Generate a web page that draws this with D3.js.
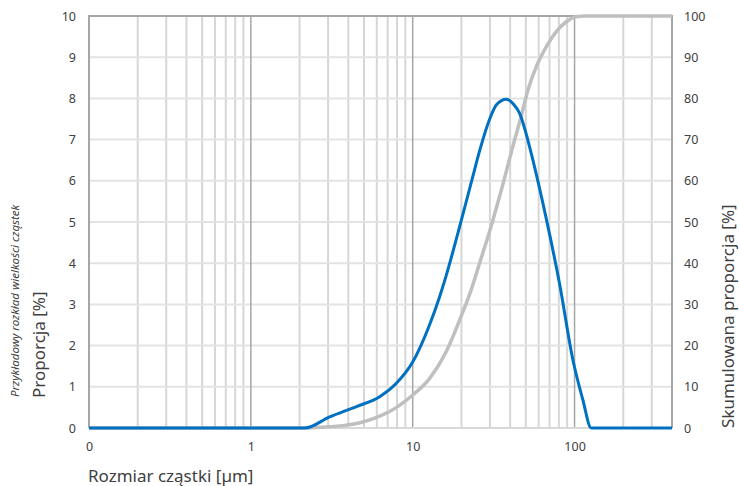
<!DOCTYPE html>
<html>
<head>
<meta charset="utf-8">
<script src="https://cdn.jsdelivr.net/npm/d3@7"></script>
<style>
  body { margin: 0; background: #fff; }
  svg text { font-family: "Noto Sans", "Open Sans", sans-serif; fill: #404040; }
</style>
</head>
<body>
<div id="chart"></div>
<script>
// particle size distribution
var sizeTicks = [0.1, 1, 10, 100];
var sizeTickLabels = ["0", "1", "10", "100"];
var leftTicks = [0, 1, 2, 3, 4, 5, 6, 7, 8, 9, 10];
var rightTicks = [0, 10, 20, 30, 40, 50, 60, 70, 80, 90, 100];

var densSize = [0.1, 2.15, 3.07, 4.49, 6.25, 7.9, 10, 12.7, 14.7, 16.1, 20, 23.5, 26, 29.9, 33, 37.9, 42, 45.7, 52.7, 55.3, 66.7, 80.8, 97.7, 112.6, 126.8, 400];
var densValue = [0, 0, 0.27, 0.52, 0.76, 1.08, 1.6, 2.5, 3.2, 3.7, 5.05, 6.1, 6.75, 7.5, 7.85, 7.98, 7.86, 7.64, 6.83, 6.5, 5.1, 3.5, 1.65, 0.68, 0, 0];

var cumSize = [0.1, 2.2, 2.8, 3.9, 4.5, 6.25, 7.2, 10, 12.7, 16.1, 20, 22.5, 25.9, 30, 35.7, 42.6, 46.2, 51.5, 58, 66.8, 77.1, 88.9, 102, 115, 400];
var cumValue = [0, 0, 0.2, 0.7, 1.1, 2.9, 4.0, 8.0, 12, 18.5, 27.3, 32.5, 40, 48, 58.5, 69.9, 74.8, 82, 87.7, 92.5, 96.2, 98.6, 99.8, 100, 100];

var margin = {top: 16, right: 67, bottom: 58, left: 89},
    width = 739 - margin.left - margin.right,
    height = 486 - margin.top - margin.bottom;

var svg = d3.select("#chart").append("svg")
    .attr("width", 739)
    .attr("height", 486)
  .append("g")
    .attr("transform", "translate(" + margin.left + "," + margin.top + ")");

var x = d3.scaleLog().domain([0.1, 400]).range([0, width]);
var yL = d3.scaleLinear().domain([0, 10]).range([height, 0]);
var yR = d3.scaleLinear().domain([0, 100]).range([height, 0]);

// minor / major vertical gridlines
var minor = [];
[0.1, 1, 10, 100].forEach(function(dec) {
  for (var k = 2; k <= 9; k++) {
    if (dec * k < 400) minor.push(dec * k);
  }
});
svg.selectAll(".vminor").data(minor).enter().append("line")
  .attr("x1", function(d) { return x(d); }).attr("x2", function(d) { return x(d); })
  .attr("y1", 0).attr("y2", height)
  .attr("stroke", "#d6d6d6").attr("stroke-width", 2);

svg.selectAll(".hgrid").data(leftTicks.slice(1, -1)).enter().append("line")
  .attr("x1", 0).attr("x2", width)
  .attr("y1", function(d) { return yL(d); }).attr("y2", function(d) { return yL(d); })
  .attr("stroke", "#e3e3e3").attr("stroke-width", 2);

svg.selectAll(".vmajor").data([1, 10, 100]).enter().append("line")
  .attr("x1", function(d) { return x(d); }).attr("x2", function(d) { return x(d); })
  .attr("y1", 0).attr("y2", height)
  .attr("stroke", "#a6a6a6").attr("stroke-width", 1.5);

// frame
svg.append("line").attr("x1", 0).attr("x2", width).attr("y1", height).attr("y2", height)
  .attr("stroke", "#d9d9d9").attr("stroke-width", 2);
svg.append("path")
  .attr("d", "M0," + height + "V0H" + width + "V" + height)
  .attr("fill", "none").attr("stroke", "#a6a6a6").attr("stroke-width", 2);

// axes
var axX = svg.append("g")
  .attr("transform", "translate(0," + height + ")")
  .call(d3.axisBottom(x).tickValues(sizeTicks)
    .tickFormat(function(d, i) { return sizeTickLabels[i]; })
    .tickSize(0).tickPadding(14));
var axL = svg.append("g")
  .call(d3.axisLeft(yL).tickValues(leftTicks).tickFormat(d3.format("d")).tickSize(0).tickPadding(13));
var axR = svg.append("g")
  .attr("transform", "translate(" + width + ",0)")
  .call(d3.axisRight(yR).tickValues(rightTicks).tickFormat(d3.format("d")).tickSize(0).tickPadding(12));
[axX, axL, axR].forEach(function(a) {
  a.select(".domain").remove();
  a.selectAll("text").style("font-size", "12.5px").attr("fill", "#404040")
    .style("font-family", "'Noto Sans', sans-serif");
});

// curves (monotone: no overshoot below zero on the flat ends)
var lineL = d3.line()
  .x(function(d) { return x(d[0]); })
  .y(function(d) { return yL(d[1]); })
  .curve(d3.curveMonotoneX);
var lineR = d3.line()
  .x(function(d) { return x(d[0]); })
  .y(function(d) { return yR(d[1]); })
  .curve(d3.curveMonotoneX);

svg.append("path")
  .datum(d3.zip(cumSize, cumValue))
  .attr("fill", "none").attr("stroke", "#bfbfbf").attr("stroke-width", 3.5)
  .attr("d", lineR);

svg.append("path")
  .datum(d3.zip(densSize, densValue))
  .attr("fill", "none").attr("stroke", "#0070c0").attr("stroke-width", 3)
  .attr("stroke-linejoin", "round")
  .attr("d", lineL);

// titles
svg.append("text")
  .attr("x", -1)
  .attr("y", height + 54)
  .style("font-size", "17px")
  .text("Rozmiar cząstki [µm]");

svg.append("text")
  .attr("transform", "rotate(-90)")
  .attr("x", -(height - 30))
  .attr("y", -margin.left + 45)
  .style("font-size", "17px")
  .text("Proporcja [%]");

svg.append("text")
  .attr("transform", "rotate(-90)")
  .attr("x", -(height - 31))
  .attr("y", -margin.left + 19)
  .style("font-size", "11.5px")
  .style("font-style", "italic")
  .text("Przykładowy rozkład wielkości cząstek");

svg.append("text")
  .attr("transform", "rotate(-90)")
  .attr("x", -height)
  .attr("y", width + 62)
  .style("font-size", "17px")
  .text("Skumulowana proporcja [%]");
</script>
</body>
</html>
